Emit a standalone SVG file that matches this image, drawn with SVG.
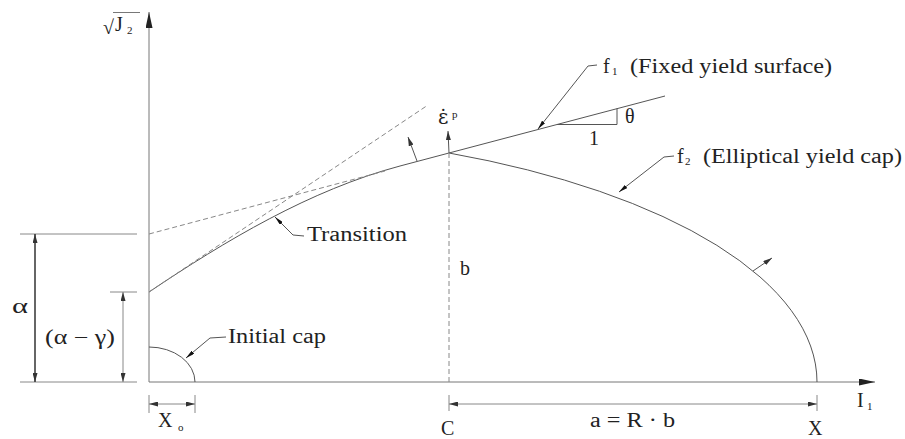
<svg xmlns="http://www.w3.org/2000/svg" width="905" height="439" viewBox="0 0 905 439">
<style>
.t{font-family:"Liberation Serif",serif;fill:#222;font-size:20px}
.s{font-size:11px}
.ln{stroke:#555;stroke-width:1;fill:none}
.ax{stroke:#777;stroke-width:1;fill:none}
.dim{stroke:#888;stroke-width:1;fill:none}
.dash{stroke:#888;stroke-width:1;fill:none;stroke-dasharray:5 3}
</style>
<defs>
<marker id="axh" viewBox="0 0 16 7" refX="16" refY="3.5" markerWidth="16" markerHeight="7" markerUnits="userSpaceOnUse" orient="auto"><path d="M0,0 L16,3.5 L0,7 z" fill="#222"/></marker>
<marker id="ah" viewBox="0 0 9 5" refX="9" refY="2.5" markerWidth="9" markerHeight="5" markerUnits="userSpaceOnUse" orient="auto-start-reverse"><path d="M0,0 L9,2.5 L0,5 z" fill="#333"/></marker>
<marker id="lh" viewBox="0 0 9 4" refX="9" refY="2" markerWidth="9" markerHeight="4" markerUnits="userSpaceOnUse" orient="auto-start-reverse"><path d="M0,0 L9,2 L0,4 z" fill="#111"/></marker>
</defs>

<g id="axes">
<line class="ax" x1="149" y1="382" x2="149" y2="12" marker-end="url(#axh)"/>
<line class="ax" x1="149" y1="382" x2="875" y2="382" marker-end="url(#axh)"/>
<text class="t" x="103" y="34" font-size="24">√</text>
<line x1="113" y1="12.5" x2="140" y2="12.5" stroke="#555" stroke-width="0.8"/>
<text class="t" x="115" y="31" font-size="18">J</text>
<text class="t s" x="127" y="34">2</text>
<text class="t" x="857" y="407">I</text>
<text class="t s" x="867" y="410">1</text>
</g>

<g id="fixed-yield-surface">
<line class="ln" x1="449" y1="153" x2="665" y2="96"/>
<line class="ln" x1="400" y1="166" x2="449" y2="153"/>
<polyline class="ln" points="557,124.5 617,124.5 617,108.5"/>
<text class="t" x="625" y="123">θ</text>
<text class="t" x="589" y="145" font-size="18">1</text>
<text class="t" x="603" y="73">f</text>
<text class="t s" x="612" y="75">1</text>
<text class="t" x="630" y="73" textLength="202" lengthAdjust="spacingAndGlyphs">(Fixed yield surface)</text>
</g>

<g id="elliptical-cap">
<path class="ln" d="M449,153 A617,250.3 0 0 1 817,382"/>
<text class="t" x="677" y="163">f</text>
<text class="t s" x="685" y="165">2</text>
<text class="t" x="703" y="163" textLength="199" lengthAdjust="spacingAndGlyphs">(Elliptical yield cap)</text>
</g>

<g id="transition">
<path class="ln" d="M149,292 C225,241 310,190 400,166"/>
<line class="dash" x1="149" y1="234" x2="385" y2="171"/>
<line class="dash" x1="149" y1="292" x2="428" y2="105"/>
<text class="t" x="307" y="241" textLength="100" lengthAdjust="spacingAndGlyphs">Transition</text>
</g>

<g id="initial-cap">
<path class="ln" d="M149,347 A46,35 0 0 1 195,382"/>
<text class="t" x="228" y="343" textLength="98" lengthAdjust="spacingAndGlyphs">Initial cap</text>
</g>

<g id="plastic-strain">
<line class="dash" x1="449" y1="153" x2="449" y2="382"/>
<text class="t" x="438" y="124" font-size="18" style="font-family:'DejaVu Serif',serif">ε̇</text>
<text class="t s" x="452" y="118">p</text>
<text class="t" x="460" y="275">b</text>
</g>

<g id="dimensions">
<line class="dim" x1="20" y1="234" x2="137" y2="234"/>
<line class="dim" x1="20" y1="382" x2="137" y2="382"/>
<line class="dim" x1="110" y1="292" x2="137" y2="292"/>
<line x1="35" y1="234" x2="35" y2="382" stroke="#333" stroke-width="1.5" marker-start="url(#ah)" marker-end="url(#ah)"/>
<text class="t" x="12" y="313" font-size="22" textLength="16" lengthAdjust="spacingAndGlyphs">α</text>
<line class="dim" x1="123" y1="292" x2="123" y2="382" marker-start="url(#ah)" marker-end="url(#ah)"/>
<text class="t" x="45" y="344" textLength="70" lengthAdjust="spacingAndGlyphs">(α − γ)</text>
<line class="dim" x1="149" y1="395" x2="149" y2="413"/>
<line class="dim" x1="195" y1="395" x2="195" y2="413"/>
<line class="dim" x1="149" y1="404" x2="195" y2="404" marker-start="url(#ah)" marker-end="url(#ah)"/>
<text class="t" x="158" y="427">X</text>
<text class="t s" x="178" y="431">o</text>
<line class="dim" x1="449" y1="395" x2="449" y2="411"/>
<line class="dim" x1="817" y1="395" x2="817" y2="411"/>
<line class="dim" x1="449" y1="404" x2="817" y2="404" marker-start="url(#ah)" marker-end="url(#ah)"/>
<text class="t" x="590" y="427" textLength="85" lengthAdjust="spacingAndGlyphs">a = R · b</text>
<text class="t" x="441" y="435">C</text>
<text class="t" x="808" y="435">X</text>
</g>

<g id="connectors">
<line class="ln" x1="449" y1="153" x2="448" y2="131" marker-end="url(#ah)"/>
<line class="ln" x1="417" y1="161" x2="408" y2="137" marker-end="url(#ah)"/>
<line class="ln" x1="753" y1="271" x2="772" y2="258" marker-end="url(#ah)"/>
<polyline class="ln" points="538,129 588,66 597,65" marker-start="url(#lh)"/>
<polyline class="ln" points="619,192 664,157 674,156" marker-start="url(#lh)"/>
<polyline class="ln" points="275,217 293,235 304,236" marker-start="url(#lh)"/>
<polyline class="ln" points="186,358 210,338 226,337" marker-start="url(#lh)"/>
</g>
</svg>
